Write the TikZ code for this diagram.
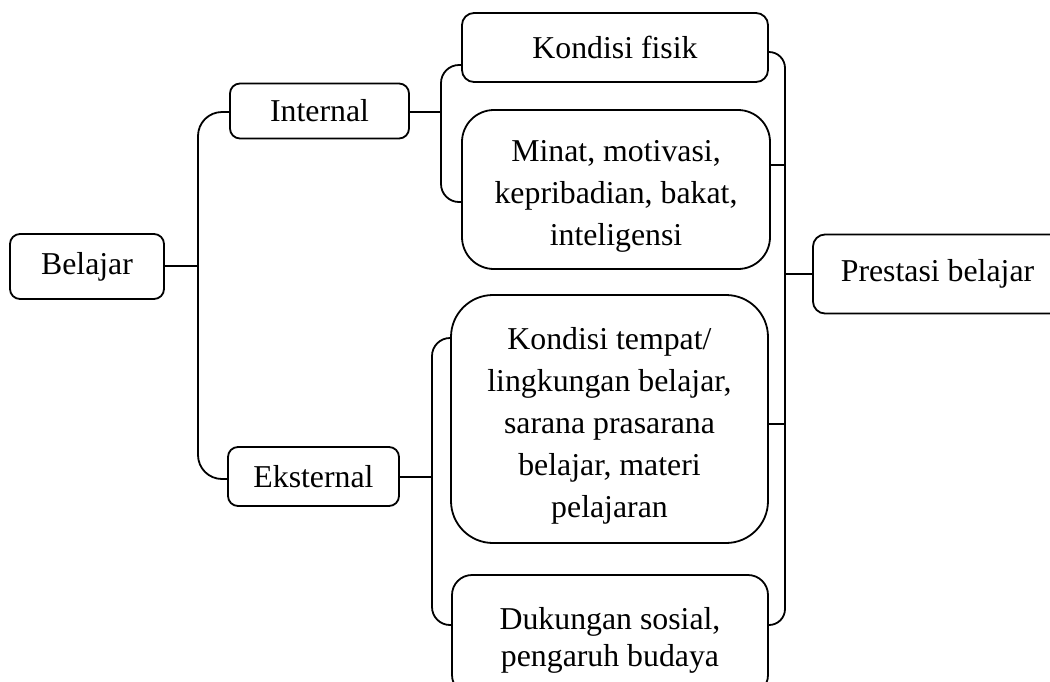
\documentclass[tikz,border=0pt]{standalone}
\usepackage{fontspec}
\setmainfont{Liberation Serif}
\usetikzlibrary{calc}
\newcommand\mltext[1]{\raisebox{-6pt}[\height][\depth]{\begin{tabular}{@{}c@{}}#1\end{tabular}}}
\begin{document}
\begin{tikzpicture}[x=1pt,y=-1pt,
  box/.style={draw, line width=1.8pt, align=center, inner sep=0pt,
    font=\fontsize{31.8}{42}\selectfont},
  link/.style={line width=1.8pt},
  brk/.style={line width=1.8pt, rounded corners=18pt}]
\useasboundingbox (0,0) rectangle (1050,681);
\clip (0,0) rectangle (1050,681);
% boxes
\node[box, rounded corners=10pt, minimum width=154pt, minimum height=65pt] (BE) at (87,266.5) {Belajar};
\node[box, rounded corners=10pt, minimum width=179pt, minimum height=55pt] (IN) at (319.5,111) {Internal};
\node[box, rounded corners=10pt, minimum width=171pt, minimum height=59pt] (EK) at (313.5,476.5) {Eksternal};
\node[box, rounded corners=12pt, minimum width=306pt, minimum height=69pt] (KF) at (615,47.5) {Kondisi fisik};
\node[box, rounded corners=32pt, minimum width=308pt, minimum height=159pt] (MI) at (616,189.5) {\mltext{Minat, motivasi,\\kepribadian, bakat,\\inteligensi}};
\node[box, rounded corners=42pt, minimum width=317pt, minimum height=248pt] (KT) at (609.5,419) {\mltext{Kondisi tempat/\\lingkungan belajar,\\sarana prasarana\\belajar, materi\\pelajaran}};
\node[box, rounded corners=20pt, minimum width=316pt, minimum height=120pt, font=\fontsize{31.8}{37}\selectfont] (DU) at (610,635) {\mltext{Dukungan sosial,\\pengaruh budaya}};
\node[box, rounded corners=12pt, minimum width=249pt, minimum height=79pt] (PR) at (937.5,274) {Prestasi belajar};
% junction points
\coordinate (b1) at (198,266);
\coordinate (i1) at (441,112);
\coordinate (e1) at (432,477);
\coordinate (r1) at (785,274);
\path ($(MI.east)+(0,-24.5)$) coordinate (m1);
\path ($(KT.east)+(0,5)$) coordinate (k1);
% connectors
\draw[link] (BE.east |- b1) -- (b1);
\draw[brk, rounded corners=24pt] (IN.west |- 0,112) -| (b1) |- (EK.west |- 0,479);
\draw[link] (IN.east |- i1) -- (i1);
\draw[brk] ($(KF.west)+(0,17.5)$) -| (i1) |- ($(MI.west)+(0,12.5)$);
\draw[link] (EK.east |- e1) -- (e1);
\draw[brk] ($(KT.west)+(0,-81)$) -| (e1) |- ($(DU.west)+(0,-10)$);
\draw[brk, rounded corners=16pt] ($(KF.east)+(0,4.5)$) -| (r1) |- ($(DU.east)+(0,-10)$);
\draw[link] (m1) -- (m1 -| r1);
\draw[link] (k1) -- (k1 -| r1);
\draw[link] (r1) -- (PR.west);
\end{tikzpicture}
\end{document}
